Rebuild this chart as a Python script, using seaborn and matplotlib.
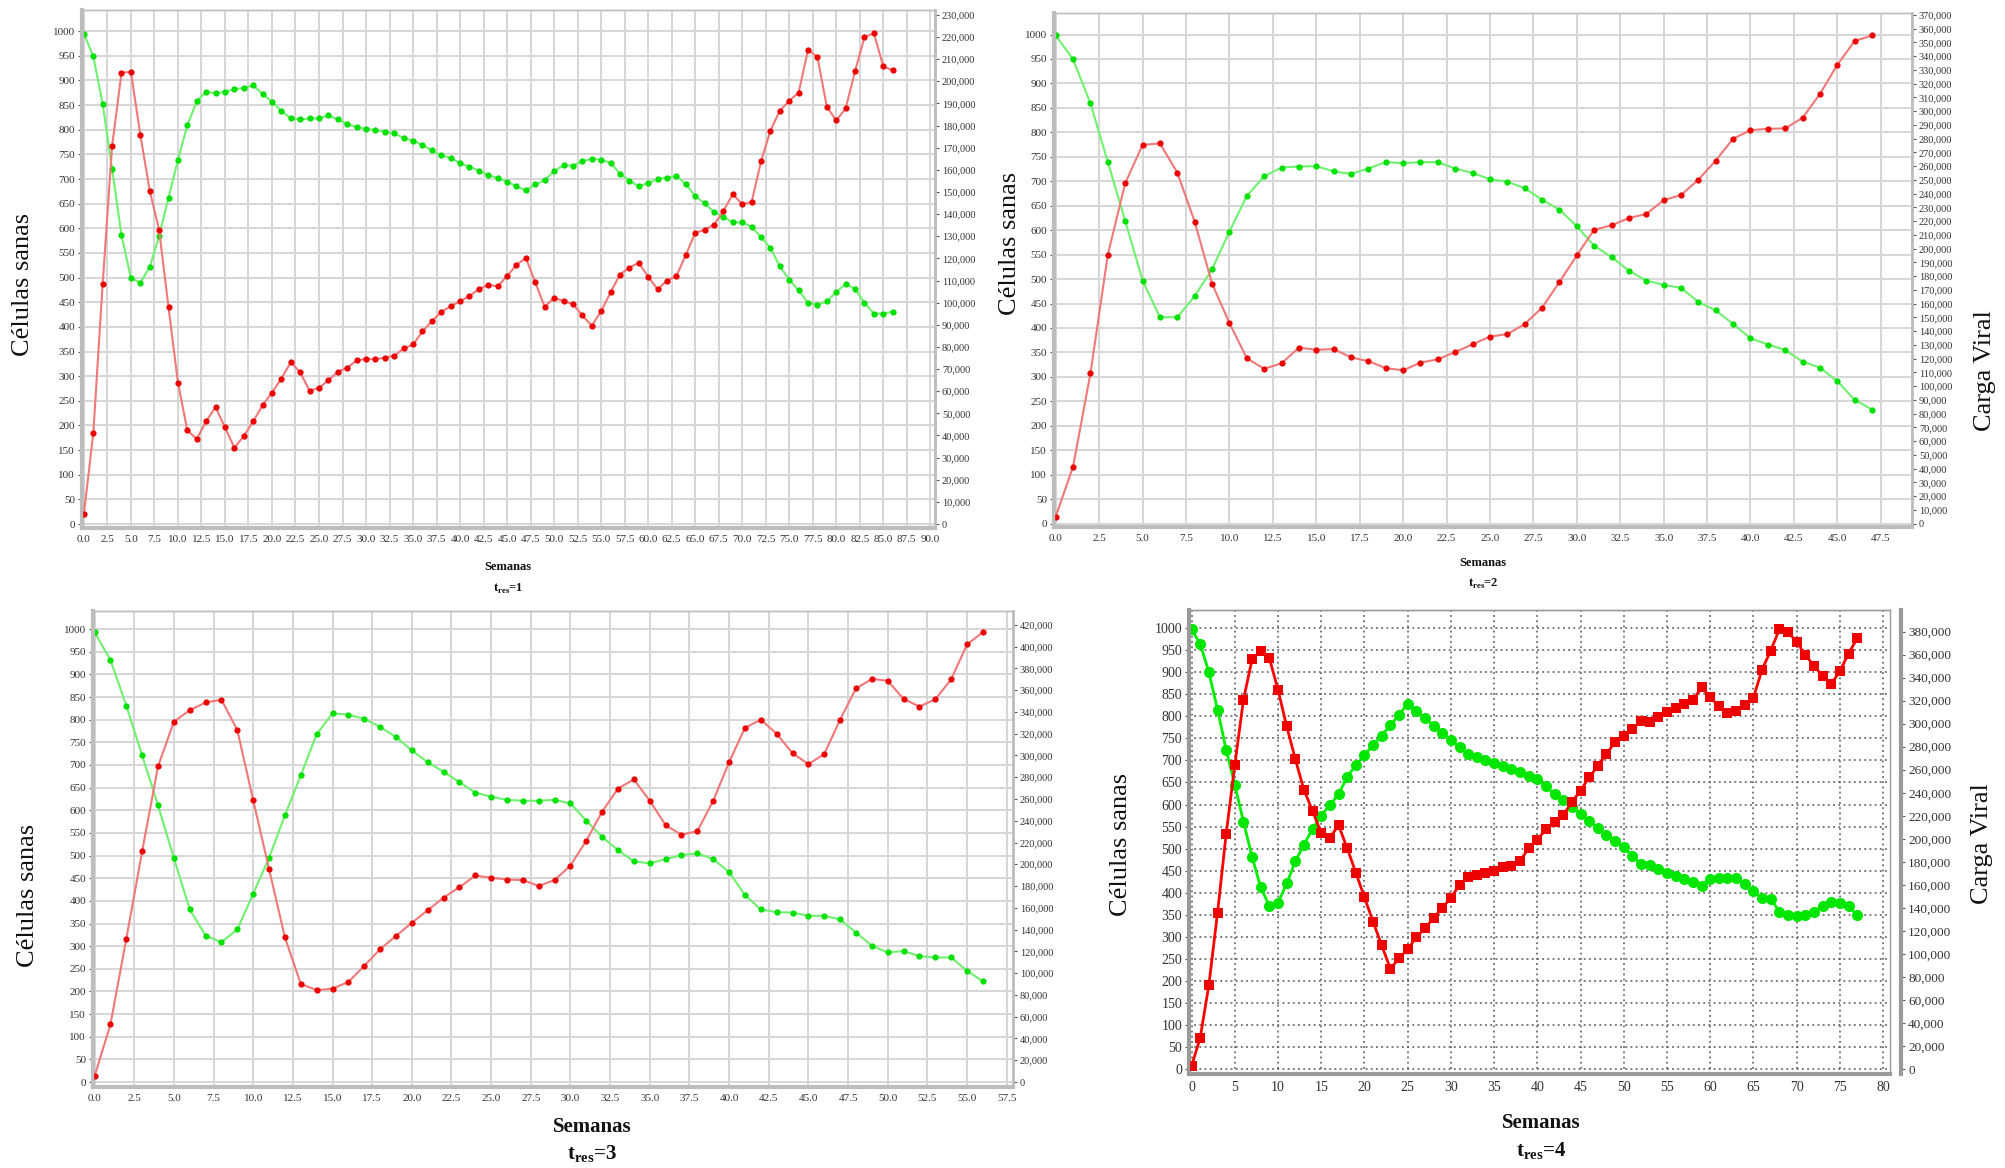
import numpy as np
import matplotlib
matplotlib.use("Agg")
import matplotlib.pyplot as plt
import matplotlib.ticker as mticker
import seaborn as sns

sns.set_style("white")
plt.rcParams['font.family'] = ['Liberation Serif', 'DejaVu Serif']
plt.rcParams['mathtext.fontset'] = 'custom'
plt.rcParams['mathtext.rm'] = 'Liberation Serif'
plt.rcParams['mathtext.bf'] = 'Liberation Serif:bold'

# ---- data: healthy cells (left axis) and viral load (right axis), one value per week ----
sanas_1 = [995, 949, 852, 721, 586, 499, 490, 521, 585, 662, 739, 809, 858, 877, 874, 877, 882, 885, 890, 873,
           857, 838, 823, 821, 823, 823, 829, 821, 812, 805, 802, 799, 796, 793, 783, 778, 769, 758, 748, 743,
           732, 725, 717, 708, 702, 695, 685, 677, 689, 698, 716, 728, 727, 736, 741, 739, 733, 711, 697, 685,
           692, 700, 703, 706, 690, 665, 651, 633, 623, 612, 612, 603, 582, 560, 523, 496, 474, 449, 445, 452,
           471, 487, 477, 449, 427, 427, 431]
viral_1 = [4600, 41000, 108600, 170700, 203900, 204200, 175900, 150600, 132800, 97900, 63900, 42300, 38400,
           46400, 52800, 43700, 34500, 39700, 46400, 53600, 59400, 65700, 73100, 68500, 60200, 61500, 64900,
           68800, 70600, 73900, 74600, 74400, 75200, 76000, 79300, 81100, 87000, 91600, 95800, 98400, 100600,
           103000, 106100, 108100, 107300, 112000, 117100, 120200, 109100, 98100, 102200, 100700, 99400, 94200,
           89600, 96100, 104600, 112700, 115800, 118000, 111700, 106100, 109900, 112000, 121500, 131500, 132900,
           135200, 141400, 149000, 144400, 145400, 163800, 177700, 186700, 191100, 194900, 214200, 210900,
           188400, 182300, 187700, 204500, 219900, 221700, 206700, 204900]

sanas_2 = [998, 949, 859, 739, 619, 497, 422, 422, 465, 520, 597, 670, 710, 728, 730, 731, 720, 715, 726, 739,
           737, 739, 739, 726, 717, 704, 699, 686, 662, 642, 608, 568, 545, 517, 497, 488, 482, 453, 436, 408,
           379, 366, 355, 331, 319, 291, 253, 233]
viral_2 = [5100, 41500, 109400, 195700, 247600, 275500, 276600, 255300, 219600, 174600, 145900, 120300, 112600,
           116600, 128000, 126400, 127000, 120900, 118200, 113100, 111500, 117100, 119500, 124800, 130400, 136000,
           137900, 145100, 157100, 175700, 195100, 213800, 216900, 222300, 225200, 235300, 239000, 250200, 264100,
           280000, 286200, 287200, 287500, 295200, 312500, 333800, 351100, 355100]

sanas_3 = [993, 932, 831, 721, 611, 494, 381, 323, 309, 337, 416, 495, 589, 677, 768, 814, 811, 802, 784, 762,
           732, 706, 685, 662, 639, 630, 623, 621, 621, 623, 615, 577, 541, 512, 487, 483, 492, 501, 505, 492,
           464, 413, 381, 375, 374, 367, 367, 359, 330, 301, 286, 289, 278, 275, 275, 246, 222]
viral_3 = [5400, 52900, 131500, 212000, 290000, 331000, 341500, 348600, 351100, 323200, 258800, 195600, 132800,
           90100, 84400, 85700, 91900, 106600, 122000, 134200, 146200, 157800, 169300, 178900, 189700, 187600,
           186000, 185500, 180100, 185500, 198800, 221700, 248400, 269600, 277900, 258300, 235900, 227100,
           230500, 258300, 293700, 325300, 332800, 319900, 302000, 292000, 301200, 332800, 361500, 370200,
           368600, 351900, 344900, 351500, 369800, 401900, 413200]

sanas_4 = [997, 964, 900, 815, 724, 645, 561, 481, 412, 370, 377, 421, 471, 509, 545, 575, 599, 623, 663, 689,
           712, 735, 756, 780, 803, 829, 812, 796, 779, 763, 747, 730, 714, 707, 700, 694, 687, 680, 673, 665,
           658, 641, 623, 611, 594, 578, 563, 546, 531, 517, 503, 484, 464, 462, 453, 445, 439, 430, 424, 416,
           432, 433, 433, 433, 420, 403, 389, 386, 357, 350, 348, 350, 357, 371, 380, 377, 369, 349]
viral_4 = [2900, 27400, 73100, 135700, 204300, 264000, 320800, 356000, 363200, 357000, 329200, 297900, 269200,
           242400, 224200, 204900, 201000, 211800, 191900, 170700, 149100, 127900, 107400, 87100, 96300, 104100,
           114500, 122400, 131200, 140000, 148800, 160200, 166700, 169000, 170700, 172300, 175200, 176200,
           180800, 191900, 199400, 208200, 214700, 220600, 232300, 241800, 253500, 263300, 273400, 284500,
           289400, 295300, 302500, 301800, 305400, 310300, 313900, 316800, 320400, 331500, 323000, 315200,
           309300, 310600, 315900, 322700, 346900, 363500, 381800, 379800, 371000, 359600, 350400, 341300,
           334500, 345500, 360900, 374000]

subtitles = ["1", "2", "3", "4"]

W, H = 2005, 1168
fig = plt.figure(figsize=(W / 100, H / 100), dpi=100)


def box(l, t, r, b):
    return [l / W, 1 - b / H, (r - l) / W, (b - t) / H]


panels = [
    dict(sanas=sanas_1, viral=viral_1, rect=box(82, 10, 935, 528), xlim=(-0.2, 90.5), xstep=2.5,
         xmax_tick=90, ylim=(-8, 1043), ratio=222.6, rstep=10000, rmax=230000, big=False),
    dict(sanas=sanas_2, viral=viral_2, rect=box(1054, 13, 1912, 527), xlim=(-0.1, 49.3), xstep=2.5,
         xmax_tick=47.5, ylim=(-7, 1044), ratio=355.8, rstep=10000, rmax=370000, big=False),
    dict(sanas=sanas_3, viral=viral_3, rect=box(93, 611, 1013, 1087), xlim=(-0.1, 57.9), xstep=2.5,
         xmax_tick=57.5, ylim=(-11, 1040), ratio=416.0, rstep=20000, rmax=420000, big=False),
    dict(sanas=sanas_4, viral=viral_4, rect=box(1189, 610, 1890, 1074), xlim=(-0.3, 80.8), xstep=5,
         xmax_tick=80, ylim=(-11, 1041), ratio=383.0, rstep=20000, rmax=380000, big=True),
]

for p in panels:
    ax = fig.add_axes(p["rect"])
    ax2 = ax.twinx()
    big = p["big"]
    weeks = np.arange(len(p["sanas"]))

    if big:
        sns.lineplot(x=weeks, y=p["sanas"], ax=ax, color="#00ee00", lw=2.0, marker="o", ms=8,
                     markeredgewidth=0, markerfacecolor="#00e600")
        sns.lineplot(x=weeks, y=p["viral"], ax=ax2, color="#ff0000", lw=2.0, marker="s", ms=7,
                     markeredgewidth=0, markerfacecolor="#ee0000")
    else:
        sns.lineplot(x=weeks, y=p["sanas"], ax=ax, color="#70f070", lw=1.5, marker="o", ms=4.5,
                     markeredgewidth=0, markerfacecolor="#00e000")
        sns.lineplot(x=weeks, y=p["viral"], ax=ax2, color="#f07878", lw=1.5, marker="o", ms=4.5,
                     markeredgewidth=0, markerfacecolor="#ee0000")

    ax.set_xlim(*p["xlim"])
    ax.set_ylim(*p["ylim"])
    ax2.set_ylim(p["ylim"][0] * p["ratio"], p["ylim"][1] * p["ratio"])
    ax.set_xticks(np.arange(0, p["xmax_tick"] + 0.01, p["xstep"]))
    ax.set_yticks(np.arange(0, 1001, 50))
    ax2.set_yticks(np.arange(0, p["rmax"] + 1, p["rstep"]))
    ax2.yaxis.set_major_formatter(mticker.FuncFormatter(lambda v, _: f"{v:,.0f}"))
    if big:
        ax.xaxis.set_major_formatter(mticker.FormatStrFormatter("%d"))
    else:
        ax.xaxis.set_major_formatter(mticker.FormatStrFormatter("%.1f"))
    ax.set_xlabel("")
    ax.set_ylabel("")
    ax2.set_ylabel("")

    if big:
        ax.grid(True, color="#555555", lw=1.1, linestyle=(0, (1.2, 2.2)))
        spine_c, fs = "#9a9a9a", 10
    else:
        ax.grid(True, color="#d6d6d6", lw=1.4)
        spine_c, fs = "#bdbdbd", 8
    ax2.grid(False)
    ax.set_axisbelow(True)

    for a in (ax, ax2):
        for s in a.spines.values():
            s.set_color(spine_c)
            s.set_linewidth(1.0)
        a.tick_params(colors="#555555", labelcolor="#333333", length=3, width=0.8, labelsize=fs, pad=2)
    ax.spines["left"].set_linewidth(3)
    ax.spines["bottom"].set_linewidth(3)
    ax2.spines["right"].set_linewidth(2)
    ax2.tick_params(labelsize=fs - 0.5)
    if big:
        ax2.spines["right"].set_position(("outward", 8))
        ax2.spines["right"].set_linewidth(3)

tsty = dict(fontweight="bold", ha="center", va="center", color="#111111")
fig.text(508 / W, 1 - 567 / H, "Semanas", fontsize=9, **tsty)
fig.text(508 / W, 1 - 589 / H, r"$\mathbf{t}_{\mathbf{res}}$=" + subtitles[0], fontsize=9, **tsty)
fig.text(1483 / W, 1 - 563 / H, "Semanas", fontsize=9, **tsty)
fig.text(1483 / W, 1 - 584 / H, r"$\mathbf{t}_{\mathbf{res}}$=" + subtitles[1], fontsize=9, **tsty)
fig.text(592 / W, 1 - 1127 / H, "Semanas", fontsize=15, **tsty)
fig.text(592 / W, 1 - 1154 / H, r"$\mathbf{t}_{\mathbf{res}}$=" + subtitles[2], fontsize=15, **tsty)
fig.text(1541 / W, 1 - 1123 / H, "Semanas", fontsize=15, **tsty)
fig.text(1541 / W, 1 - 1151 / H, r"$\mathbf{t}_{\mathbf{res}}$=" + subtitles[3], fontsize=15, **tsty)

lsty = dict(rotation=90, ha="center", va="center", fontsize=19, color="#111111")
fig.text(23 / W, 1 - 284 / H, "Células sanas", **lsty)
fig.text(1010 / W, 1 - 243 / H, "Células sanas", **lsty)
fig.text(1985 / W, 1 - 371 / H, "Carga Viral", **lsty)
fig.text(28 / W, 1 - 895 / H, "Células sanas", **lsty)
fig.text(1121 / W, 1 - 844 / H, "Células sanas", **lsty)
fig.text(1982 / W, 1 - 844 / H, "Carga Viral", **lsty)

fig.savefig("out.png", dpi=100)
